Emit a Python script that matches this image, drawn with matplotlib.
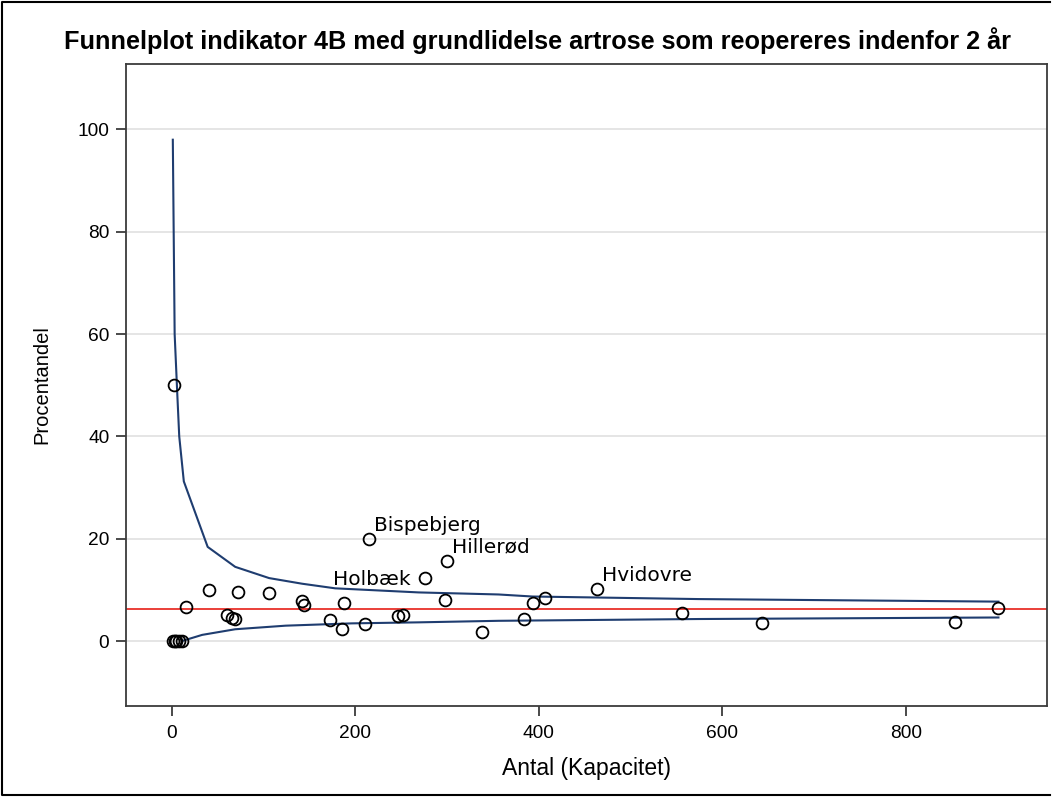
import matplotlib.pyplot as plt
from matplotlib.lines import Line2D

# Hospitals: number of operations (n) and reoperation percentage
antal = [1, 3, 5, 8, 11, 2, 15, 40, 60, 66, 69, 72, 106, 142, 144, 172, 185,
         188, 211, 215, 247, 252, 276, 298, 300, 338, 384, 394, 407, 463, 556,
         643, 854, 901]
procent = [0.0, 0.0, 0.0, 0.0, 0.0, 50.0, 6.7, 10.0, 5.0, 4.5, 4.4, 9.6, 9.4,
           7.8, 7.0, 4.1, 2.3, 7.5, 3.3, 20.0, 4.8, 5.1, 12.3, 8.1, 15.7, 1.8,
           4.4, 7.4, 8.4, 10.1, 5.5, 3.6, 3.7, 6.4]

# labelled hospitals
labels = {'Bispebjerg': 19, 'Holbæk': 22, 'Hillerød': 24, 'Hvidovre': 29}

# funnel control limits
upper_n = [1, 3, 6, 8, 13, 39, 69, 106, 142, 178, 269, 356, 393, 574, 901]
upper = [98.0, 60.0, 47.8, 40.0, 31.2, 18.4, 14.5, 12.3, 11.2, 10.3, 9.5,
         9.1, 8.7, 8.2, 7.7]
lower_n = [11, 33, 69, 124, 196, 269, 356, 574, 901]
lower = [0.0, 1.2, 2.3, 3.0, 3.45, 3.65, 3.95, 4.3, 4.6]

gennemsnit = 6.2

plt.rcParams['font.family'] = ['Liberation Sans', 'DejaVu Sans']

fig = plt.figure(figsize=(10.52, 7.97), dpi=100)
ax = fig.add_axes([0.1198, 0.1142, 0.8755, 0.8055])

ax.set_axisbelow(True)
ax.grid(axis='y', color='#e3e3e3', linewidth=1.3)

ax.plot(upper_n, upper, color='#1f3d70', linewidth=1.5, zorder=2)
ax.plot(lower_n, lower, color='#1f3d70', linewidth=1.5, zorder=2)
ax.axhline(gennemsnit, color='#e8302a', linewidth=1.3, zorder=2)

ax.plot(antal, procent, linestyle='none', marker='o', markersize=8.5,
        markerfacecolor='none', markeredgecolor='black', markeredgewidth=1.3,
        zorder=3)

for name, i in labels.items():
    if name == 'Holbæk':
        ax.annotate(name, (antal[i], procent[i]), xytext=(-14, -7),
                    textcoords='offset pixels', ha='right', va='baseline',
                    fontsize=14.5, family='DejaVu Sans')
    else:
        ax.annotate(name, (antal[i], procent[i]), xytext=(5, 8),
                    textcoords='offset pixels', ha='left', va='baseline',
                    fontsize=14.5, family='DejaVu Sans')

ax.set_xlim(-50, 954)
ax.set_ylim(-12.7, 112.8)
ax.set_xticks([0, 200, 400, 600, 800])
ax.set_yticks([0, 20, 40, 60, 80, 100])
ax.tick_params(labelsize=13.8, length=7, width=1.3, color='#3c3c3c')
ax.tick_params(axis='x', pad=6.5)
ax.tick_params(axis='y', pad=5)
for s in ax.spines.values():
    s.set_color('#3c3c3c')
    s.set_linewidth(1.3)

ax.set_xlabel('Antal (Kapacitet)', fontsize=16.5, labelpad=11)
ax.set_ylabel('Procentandel', fontsize=14.5, labelpad=19)

fig.text(0.511, 0.938, 'Funnelplot indikator 4B med grundlidelse artrose som reopereres indenfor 2 år',
         ha='center', va='baseline', fontsize=18.2, fontweight='bold',
         family=['Liberation Sans Narrow', 'Liberation Sans', 'DejaVu Sans'])

# outer border (left, top, bottom)
fig.add_artist(Line2D([0.998, 0.002, 0.002, 0.998], [0.998, 0.998, 0.002, 0.002],
                      transform=fig.transFigure, color='black', linewidth=1.5))

fig.savefig('out.png', dpi=100)
